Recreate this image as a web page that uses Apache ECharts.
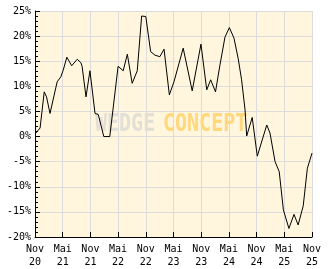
<!DOCTYPE html>
<html>
<head>
<meta charset="utf-8">
<script src="https://cdn.jsdelivr.net/npm/echarts@6/dist/echarts.min.js"></script>
<style>html,body{margin:0;padding:0;background:#fff;}#c{width:332px;height:269px;}</style>
</head>
<body>
<div id="c"></div>
<script>
// months since Nov 2020
const months = [0, 1.1, 2.0, 2.5, 3.25, 4.8, 5.6, 6.1, 6.9, 7.95, 9.15, 9.95, 10.2, 11.05, 11.9, 13.0, 13.7, 14.9, 16.2, 18.0, 19.1, 20.0, 21.05, 22.15, 23.1, 24.0, 25.05, 26.0, 27.05, 27.95, 29.1, 30.1, 32.1, 34.05, 35.95, 37.2, 38.05, 39.1, 40.05, 41.15, 42.1, 43.1, 44.0, 44.75, 45.5, 45.85, 47.05, 48.15, 50.2, 50.9, 52.0, 52.9, 53.8, 55.0, 56.1, 57.0, 58.1, 59.0, 60.0];
const values = [0.5, 1.7, 8.9, 7.9, 4.6, 10.9, 11.9, 13.2, 15.8, 14.1, 15.4, 14.7, 14.0, 7.9, 13.1, 4.6, 4.4, 0.0, 0.0, 14.0, 13.1, 16.4, 10.6, 13.1, 24.0, 23.9, 16.9, 16.2, 15.9, 17.4, 8.3, 10.9, 17.6, 9.1, 18.4, 9.3, 11.3, 8.9, 14.2, 19.8, 21.7, 19.6, 15.6, 11.3, 5.3, 0.1, 3.8, -3.9, 2.3, 0.7, -5.0, -7.0, -14.6, -18.3, -15.5, -17.6, -13.8, -6.3, -3.3];
const xTickLabels = ['Nov\n20', 'Mai\n21', 'Nov\n21', 'Mai\n22', 'Nov\n22', 'Mai\n23', 'Nov\n23', 'Mai\n24', 'Nov\n24', 'Mai\n25', 'Nov\n25'];
const yMin = -20, yMax = 25, yStep = 5;

const chart = echarts.init(document.getElementById('c'), null, {renderer: 'canvas'});
const mono = '"DejaVu Sans Mono", monospace';
chart.setOption({
  animation: false,
  backgroundColor: '#ffffff',
  grid: {left: 35, right: 20, top: 11, bottom: 32, show: true, backgroundColor: '#FFF6DD', borderWidth: 0},
  xAxis: {
    type: 'value', min: 0, max: 60, interval: 6,
    axisLine: {show: true, onZero: false, lineStyle: {color: '#000', width: 1}},
    axisTick: {show: true, inside: true, length: 5, lineStyle: {color: '#000'}},
    splitLine: {show: true, lineStyle: {color: '#DCDCDC', width: 1}},
    axisLabel: {
      color: '#000', fontFamily: mono, fontSize: 10, lineHeight: 13, margin: 6,
      formatter: v => xTickLabels[Math.round(v / 6)] || ''
    }
  },
  yAxis: {
    type: 'value', min: yMin, max: yMax, interval: yStep,
    axisLine: {show: true, onZero: false, lineStyle: {color: '#000', width: 1}},
    axisTick: {show: true, inside: true, length: 5, lineStyle: {color: '#000'}},
    minorTick: {show: true, splitNumber: 5, length: 3, lineStyle: {color: '#000'}},
    splitLine: {show: true, lineStyle: {color: '#DCDCDC', width: 1}},
    axisLabel: {color: '#000', fontFamily: mono, fontSize: 10, margin: 4, formatter: v => v + '%'}
  },
  graphic: [
    {type: 'text', left: 95, top: 112, z: 1, scaleY: 1.25,
     style: {text: 'WEDGE', fill: '#E2DFD6', font: 'bold 20px "DejaVu Sans Mono"'}},
    {type: 'text', left: 163, top: 112, z: 1, scaleY: 1.25,
     style: {text: 'CONCEPT', fill: '#FFD77C', font: 'bold 20px "DejaVu Sans Mono"'}}
  ],
  series: [{
    type: 'line', z: 3, symbol: 'none', showSymbol: false,
    lineStyle: {color: '#000', width: 1},
    data: months.map((m, i) => [m, values[i]])
  }]
});
</script>
</body>
</html>
